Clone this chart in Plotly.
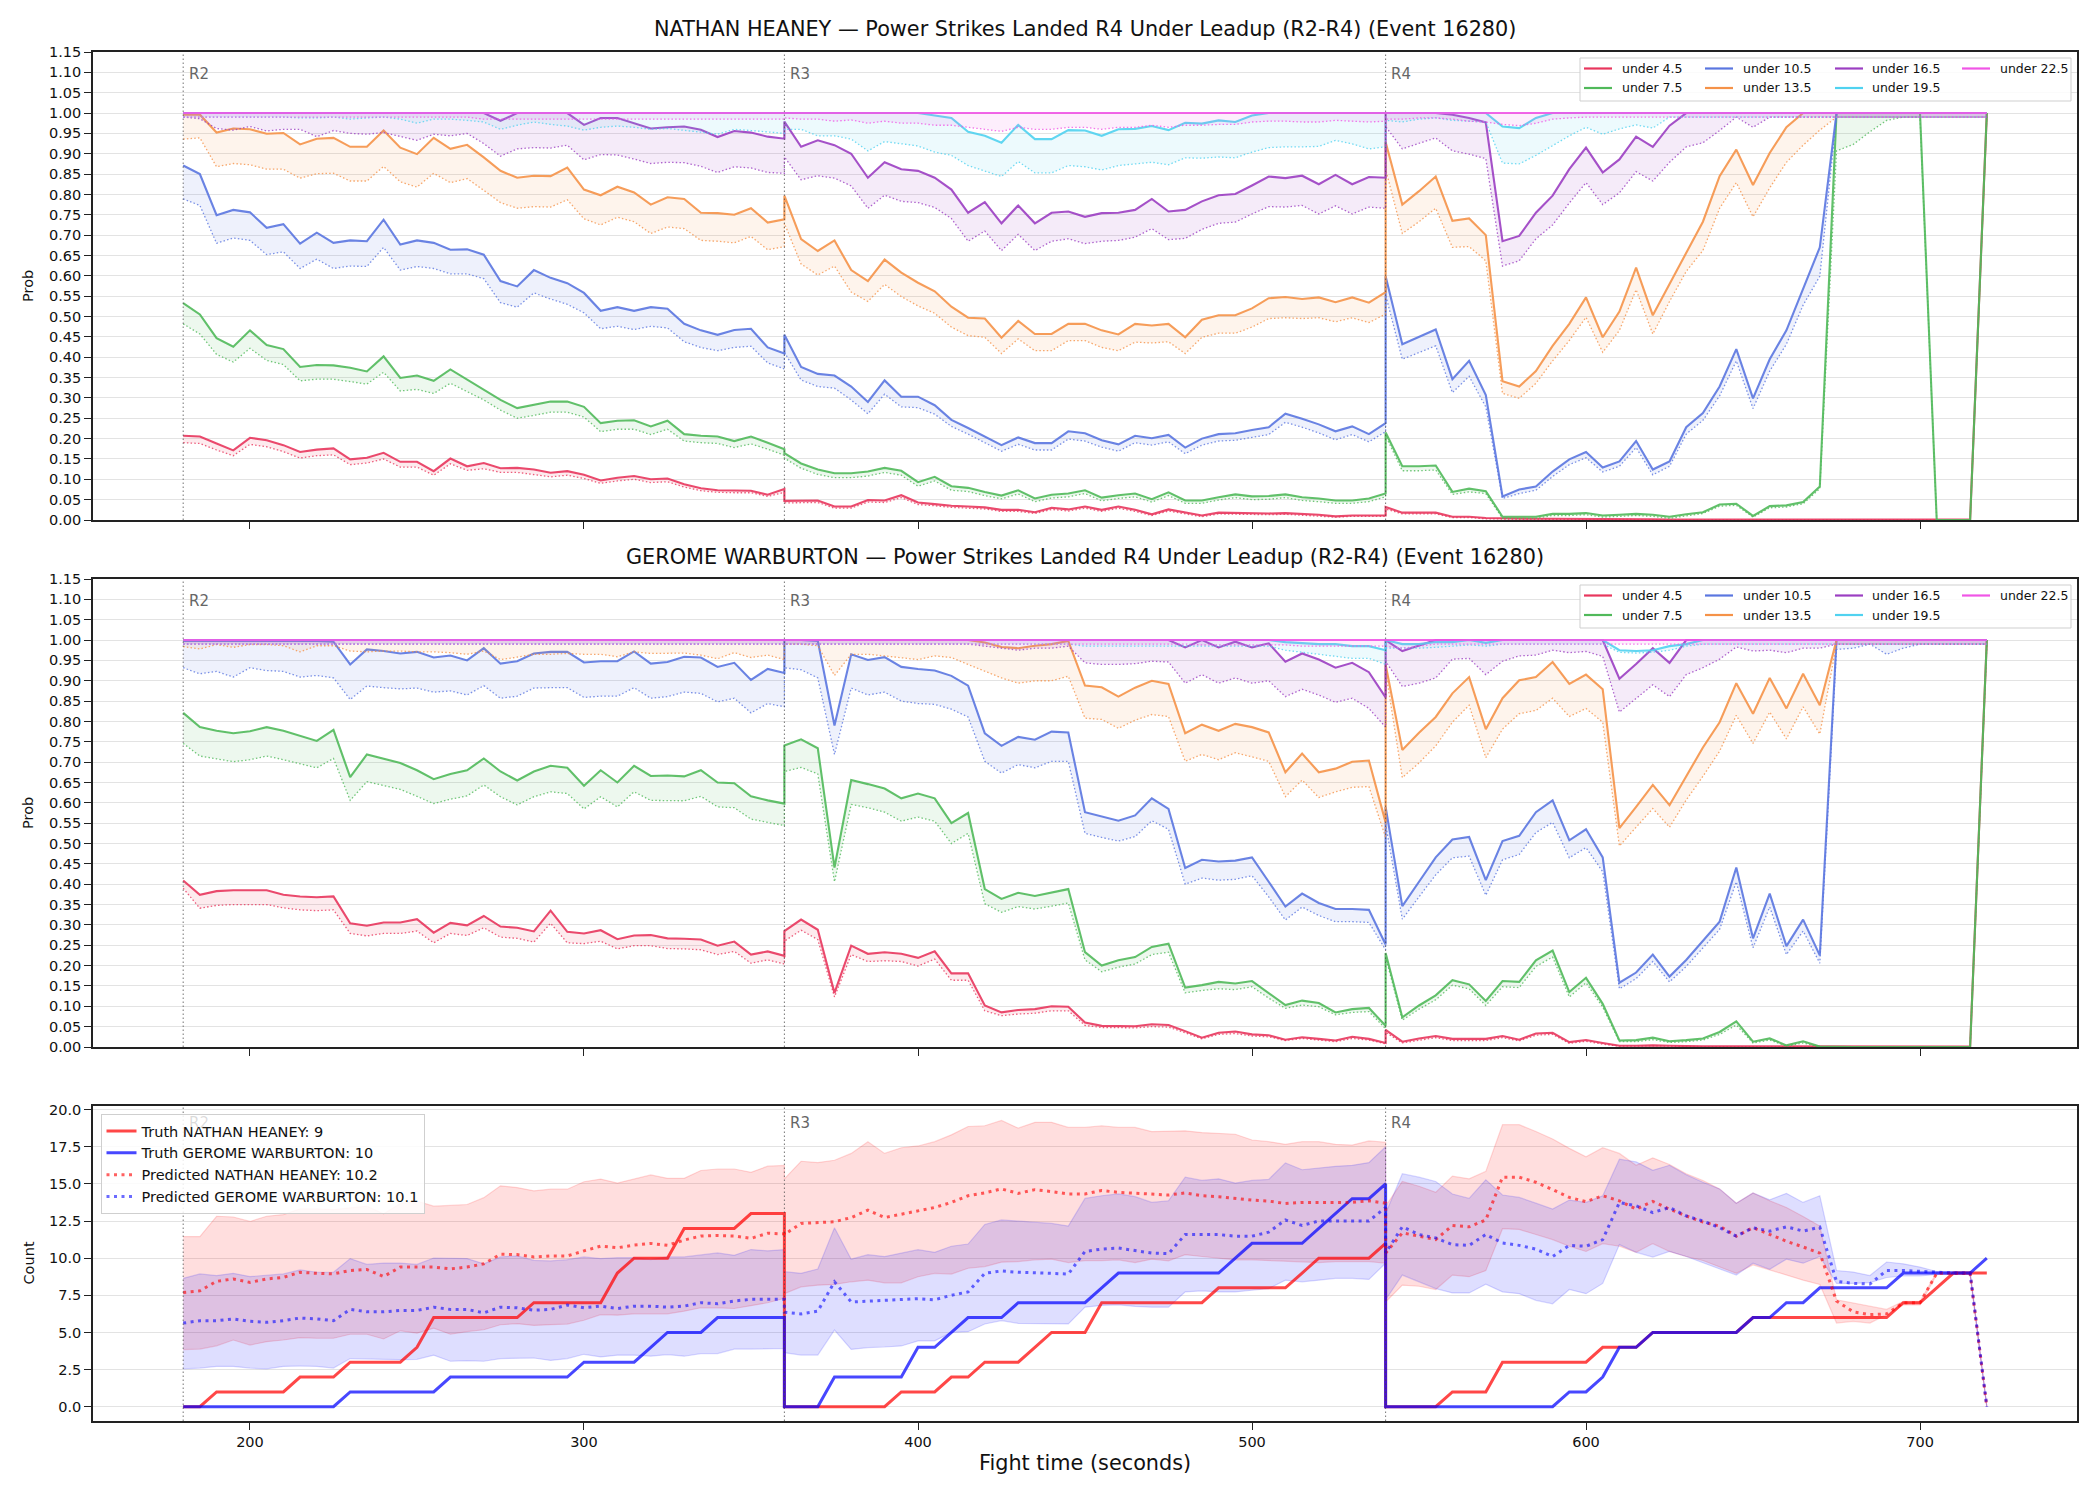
import plotly.graph_objects as go

# ---------------------------------------------------------------- time grid
# three rounds, sampled every 5 s, each round includes both of its end points
T = ([180 + 5 * i for i in range(37)] + [360 + 5 * i for i in range(37)]
     + [540 + 5 * i for i in range(37)])

THRESHOLDS = ["under 4.5", "under 7.5", "under 10.5", "under 13.5",
              "under 16.5", "under 19.5", "under 22.5"]
COLORS = ["#e8365d", "#50b95a", "#5a76e0", "#f59248", "#9b3ec2", "#50d2f0", "#f055e6"]
ROUND_STARTS = [180, 360, 540]
ROUND_LABELS = ["R2", "R3", "R4"]

# ---------------------------------------------------------------- NATHAN HEANEY (panel 1)
H_U45 = ([0.207,0.205,0.188,0.171,0.202,0.196,0.184,0.167,0.173,0.176,0.149,0.153,0.165,0.143,0.143,0.120,0.151,0.132,0.140,0.127,
          0.128,0.124,0.116,0.120,0.111,0.097,0.104,0.108,0.100,0.102,0.088,0.078,0.073,0.072,0.072,0.062,0.076]
         + [0.047,0.047,0.048,0.033,0.033,0.049,0.048,0.061,0.043,0.039,0.035,0.033,0.031,0.025,0.025,0.019,0.030,0.026,0.033,0.025,
            0.033,0.025,0.014,0.026,0.018,0.011,0.018,0.017,0.017,0.016,0.017,0.015,0.013,0.009,0.011,0.011,0.011]
         + [0.032,0.018,0.018,0.018,0.008,0.008,0.005,0.004,0.004,0.003,0.003,0.003,0.002,0.002,0.002,0.002,0.002] + [0.001]*19 + [1.0])
H_L45 = ([0.190,0.188,0.172,0.158,0.186,0.180,0.168,0.152,0.158,0.160,0.136,0.140,0.150,0.130,0.130,0.110,0.138,0.122,0.126,0.117,
          0.117,0.112,0.106,0.110,0.102,0.090,0.096,0.100,0.092,0.094,0.081,0.072,0.068,0.067,0.067,0.058,0.068]
         + [0.042,0.042,0.043,0.029,0.029,0.044,0.043,0.055,0.038,0.035,0.031,0.029,0.027,0.021,0.021,0.016,0.026,0.022,0.029,0.021,
            0.029,0.021,0.011,0.022,0.015,0.008,0.015,0.014,0.014,0.013,0.014,0.012,0.010,0.007,0.009,0.009,0.009]
         + [0.027,0.015,0.015,0.015,0.006,0.006,0.003,0.002,0.002,0.002,0.002,0.002,0.001,0.001,0.001,0.001,0.001] + [0.0]*19 + [0.99])
H_U75 = ([0.533,0.505,0.447,0.426,0.466,0.430,0.420,0.376,0.381,0.380,0.374,0.365,0.402,0.349,0.355,0.342,0.370,0.345,0.321,0.295,
          0.275,0.283,0.291,0.291,0.278,0.238,0.244,0.245,0.230,0.244,0.211,0.207,0.205,0.194,0.205,0.190,0.174]
         + [0.164,0.139,0.124,0.115,0.115,0.119,0.128,0.121,0.093,0.106,0.083,0.079,0.069,0.060,0.073,0.053,0.062,0.065,0.073,0.055,
            0.061,0.065,0.051,0.068,0.048,0.048,0.056,0.063,0.058,0.059,0.063,0.056,0.053,0.048,0.048,0.053,0.065]
         + [0.215,0.132,0.132,0.134,0.069,0.077,0.071,0.008,0.008,0.008,0.015,0.015,0.017,0.011,0.013,0.015,0.013,0.008,0.014,0.019,
            0.038,0.040,0.010,0.034,0.036,0.044,0.082,1.0,1.0,1.0,1.0,1.0,1.0,0.0,0.0,0.0,1.0])
H_L75 = ([0.482,0.457,0.407,0.388,0.422,0.392,0.382,0.342,0.346,0.346,0.340,0.334,0.363,0.317,0.321,0.311,0.336,0.316,0.295,0.270,
          0.250,0.257,0.265,0.265,0.253,0.217,0.223,0.223,0.210,0.223,0.194,0.190,0.188,0.178,0.187,0.174,0.159]
         + [0.152,0.127,0.112,0.104,0.104,0.108,0.117,0.110,0.083,0.096,0.073,0.070,0.060,0.052,0.064,0.045,0.054,0.057,0.065,0.047,
            0.053,0.057,0.044,0.060,0.041,0.041,0.049,0.055,0.050,0.051,0.055,0.048,0.045,0.041,0.041,0.045,0.057]
         + [0.207,0.121,0.121,0.123,0.063,0.069,0.065,0.004,0.004,0.004,0.011,0.011,0.013,0.007,0.009,0.011,0.009,0.004,0.010,0.016,
            0.034,0.036,0.007,0.030,0.032,0.040,0.077,0.907,0.923,0.954,0.982,0.990,0.990,0.0,0.0,0.0,0.99])
H_U105 = ([0.871,0.850,0.749,0.762,0.756,0.718,0.727,0.679,0.706,0.681,0.687,0.685,0.738,0.677,0.687,0.681,0.664,0.665,0.652,0.587,
           0.574,0.614,0.595,0.582,0.558,0.514,0.523,0.514,0.523,0.519,0.482,0.466,0.455,0.467,0.470,0.424,0.409]
          + [0.455,0.376,0.359,0.355,0.328,0.290,0.343,0.303,0.303,0.282,0.246,0.226,0.205,0.184,0.203,0.189,0.189,0.218,0.213,0.196,
             0.186,0.207,0.201,0.209,0.178,0.200,0.211,0.213,0.221,0.228,0.261,0.249,0.235,0.218,0.230,0.211,0.238]
          + [0.599,0.432,0.451,0.468,0.346,0.391,0.307,0.058,0.075,0.082,0.119,0.149,0.167,0.129,0.144,0.194,0.124,0.144,0.228,0.263,
             0.328,0.420,0.299,0.395,0.466,0.566,0.670] + [1.0]*10)
H_L105 = ([0.789,0.773,0.680,0.693,0.687,0.652,0.659,0.618,0.641,0.618,0.624,0.623,0.670,0.614,0.623,0.618,0.605,0.605,0.593,0.534,
           0.523,0.558,0.543,0.530,0.509,0.470,0.476,0.468,0.476,0.472,0.438,0.424,0.416,0.424,0.427,0.386,0.371]
          + [0.412,0.344,0.328,0.324,0.295,0.261,0.309,0.278,0.276,0.260,0.230,0.211,0.190,0.169,0.186,0.172,0.172,0.199,0.194,0.179,
             0.169,0.190,0.184,0.192,0.163,0.184,0.194,0.196,0.203,0.210,0.240,0.228,0.214,0.197,0.210,0.192,0.217]
          + [0.553,0.395,0.412,0.428,0.313,0.353,0.278,0.053,0.065,0.073,0.107,0.136,0.153,0.118,0.132,0.178,0.111,0.132,0.211,0.245,
             0.305,0.391,0.274,0.366,0.432,0.528,0.599] + [0.99]*10)
H_U135 = ([0.996,0.996,0.952,0.962,0.960,0.949,0.951,0.923,0.937,0.939,0.917,0.917,0.957,0.915,0.899,0.939,0.912,0.922,0.891,0.858,
           0.841,0.846,0.845,0.866,0.812,0.798,0.819,0.805,0.775,0.793,0.789,0.755,0.754,0.750,0.766,0.731,0.739]
          + [0.797,0.690,0.661,0.687,0.614,0.587,0.640,0.608,0.583,0.562,0.524,0.497,0.495,0.448,0.489,0.457,0.457,0.482,0.482,0.466,
             0.456,0.482,0.478,0.482,0.449,0.492,0.503,0.503,0.520,0.545,0.548,0.543,0.547,0.535,0.547,0.534,0.560]
          + [0.929,0.775,0.808,0.844,0.735,0.741,0.700,0.341,0.328,0.366,0.428,0.482,0.547,0.449,0.512,0.620,0.503,0.580,0.658,0.733,
             0.845,0.910,0.823,0.902,0.965] + [1.0]*12)
H_L135 = ([0.936,0.939,0.868,0.876,0.873,0.862,0.862,0.840,0.851,0.852,0.833,0.833,0.869,0.831,0.818,0.852,0.829,0.839,0.810,0.780,
           0.766,0.770,0.769,0.787,0.740,0.725,0.744,0.733,0.704,0.720,0.716,0.687,0.685,0.681,0.697,0.664,0.672]
          + [0.729,0.629,0.602,0.624,0.560,0.537,0.579,0.549,0.526,0.508,0.474,0.453,0.449,0.409,0.445,0.416,0.416,0.441,0.441,0.424,
             0.416,0.437,0.435,0.438,0.409,0.449,0.459,0.459,0.474,0.495,0.497,0.495,0.497,0.487,0.497,0.485,0.506]
          + [0.862,0.704,0.733,0.766,0.670,0.672,0.637,0.311,0.299,0.336,0.391,0.441,0.498,0.412,0.466,0.566,0.457,0.537,0.611,0.662,
             0.766,0.829,0.745,0.816,0.879,0.921,0.958] + [0.99]*10)
H_U165 = ([1.0]*19 + [0.981,1.0,1.0,1.0,1.0]
          + [0.971,0.988,0.988,0.975,0.962,0.965,0.967,0.959,0.941,0.956,0.952,0.942,0.937]
          + [0.979,0.917,0.933,0.921,0.900,0.841,0.879,0.862,0.858,0.841,0.812,0.755,0.781,0.729,0.773,0.729,0.755,0.758,0.745,0.754,
             0.755,0.762,0.789,0.758,0.762,0.783,0.798,0.801,0.822,0.844,0.840,0.846,0.825,0.848,0.825,0.843,0.841]
          + [1.0,1.0,1.0,1.0,0.996,0.988,0.977,0.685,0.698,0.755,0.797,0.862,0.915,0.854,0.886,0.942,0.917,0.969] + [1.0]*19)
H_L165 = ([0.990,0.986,0.962,0.958,0.967,0.956,0.960,0.960,0.942,0.957,0.950,0.948,0.952,0.942,0.933,0.948,0.944,0.950,0.925,0.894,
           0.912,0.915,0.914,0.921,0.885,0.898,0.897,0.887,0.876,0.879,0.878,0.869,0.854,0.868,0.865,0.854,0.852]
          + [0.892,0.836,0.846,0.840,0.821,0.766,0.798,0.783,0.780,0.768,0.741,0.685,0.710,0.662,0.702,0.662,0.685,0.691,0.679,0.685,
             0.687,0.695,0.716,0.689,0.692,0.714,0.729,0.732,0.752,0.770,0.769,0.773,0.752,0.772,0.752,0.769,0.766]
          + [0.967,0.912,0.926,0.939,0.907,0.899,0.888,0.624,0.637,0.691,0.725,0.779,0.829,0.775,0.804,0.856,0.833,0.879,0.917,0.927,
             0.957,0.990,0.965] + [0.99]*14)
H_U195 = ([1.0]*37
          + [1.0]*9 + [0.994,0.988,0.954,0.944,0.927,0.971,0.936,0.936,0.958,0.957,0.944,0.960,0.961,0.968,0.958,0.976,0.974,0.982,
                       0.978,0.994] + [1.0]*8
          + [1.0]*7 + [0.967,0.963,0.988] + [1.0]*27)
H_L195 = ([0.990,0.990,0.990,0.990,0.990,0.990,0.990,0.988,0.988,0.990,0.985,0.988,0.990,0.985,0.975,0.985,0.985,0.982,0.978,0.960,
           0.970,0.978,0.972,0.968,0.958,0.965,0.968,0.965,0.960,0.962,0.958,0.953,0.948,0.960,0.957,0.953,0.950]
          + [0.960,0.960,0.944,0.944,0.936,0.907,0.930,0.924,0.919,0.904,0.896,0.871,0.858,0.844,0.881,0.853,0.853,0.871,0.868,0.860,
             0.871,0.875,0.879,0.873,0.890,0.889,0.892,0.890,0.904,0.915,0.917,0.917,0.918,0.933,0.924,0.912,0.917]
          + [0.982,0.978,0.985,0.988,0.982,0.980,0.978,0.877,0.875,0.896,0.921,0.944,0.965,0.948,0.961,0.971,0.963] + [0.99]*20)
H_U225 = [1.0]*111
H_L225 = ([0.99]*18 + [0.985]*19
          + [0.988,0.985,0.985,0.980,0.983,0.975,0.980,0.975,0.975,0.970,0.970,0.965,0.960,0.955,0.965,0.960,0.960,0.965,0.965,0.960,
             0.965,0.965,0.970,0.965,0.970,0.970,0.972,0.972,0.978,0.980,0.980,0.978,0.978,0.982,0.980,0.978,0.980]
          + [0.985,0.985,0.988,0.988,0.985,0.980,0.978,0.972,0.969,0.975,0.985,0.988] + [0.99]*25)

# ---------------------------------------------------------------- GEROME WARBURTON (panel 2)
G_U45 = ([0.409,0.374,0.383,0.385,0.385,0.385,0.374,0.370,0.368,0.370,0.304,0.298,0.306,0.306,0.314,0.281,0.305,0.299,0.322,0.296,
          0.293,0.284,0.335,0.283,0.279,0.287,0.265,0.274,0.275,0.267,0.266,0.264,0.249,0.259,0.227,0.235,0.224]
         + [0.285,0.313,0.288,0.133,0.249,0.229,0.233,0.229,0.219,0.235,0.181,0.181,0.102,0.085,0.091,0.093,0.100,0.099,0.060,0.052,
            0.051,0.051,0.056,0.054,0.039,0.023,0.035,0.038,0.031,0.029,0.018,0.024,0.020,0.016,0.025,0.020,0.010]
         + [0.042,0.013,0.021,0.027,0.020,0.020,0.020,0.027,0.018,0.033,0.035,0.012,0.017,0.010,0.003,0.003,0.004,0.003,0.002,0.002,
            0.002,0.002] + [0.001]*14 + [1.0])
G_L45 = ([0.390,0.341,0.348,0.350,0.350,0.350,0.342,0.337,0.335,0.337,0.279,0.273,0.279,0.279,0.285,0.256,0.279,0.274,0.293,0.270,
          0.267,0.258,0.304,0.256,0.254,0.260,0.241,0.249,0.249,0.242,0.241,0.239,0.227,0.235,0.206,0.214,0.204]
         + [0.260,0.287,0.264,0.123,0.227,0.210,0.212,0.210,0.199,0.216,0.164,0.164,0.089,0.077,0.081,0.083,0.089,0.089,0.053,0.048,
            0.047,0.047,0.050,0.049,0.035,0.020,0.031,0.033,0.027,0.025,0.016,0.021,0.017,0.013,0.021,0.017,0.008]
         + [0.036,0.010,0.017,0.023,0.016,0.016,0.016,0.023,0.015,0.029,0.031,0.009,0.014,0.007,0.002,0.002,0.003,0.002,0.001,0.001,
            0.001,0.001] + [0.0]*14 + [0.99])
G_U75 = ([0.821,0.786,0.777,0.771,0.776,0.786,0.777,0.765,0.752,0.779,0.663,0.719,0.708,0.698,0.680,0.658,0.671,0.680,0.709,0.677,
          0.655,0.677,0.691,0.686,0.642,0.680,0.650,0.691,0.666,0.667,0.665,0.680,0.650,0.648,0.616,0.606,0.598]
         + [0.741,0.756,0.734,0.441,0.656,0.646,0.635,0.611,0.623,0.611,0.550,0.575,0.388,0.364,0.379,0.371,0.380,0.388,0.233,0.200,
            0.213,0.221,0.246,0.254,0.146,0.152,0.160,0.156,0.162,0.133,0.103,0.114,0.108,0.085,0.093,0.096,0.052]
         + [0.231,0.073,0.102,0.127,0.164,0.154,0.113,0.162,0.160,0.213,0.237,0.135,0.170,0.106,0.016,0.017,0.023,0.014,0.017,0.021,
            0.037,0.063,0.013,0.021,0.004,0.014,0.001] + [0.0]*9 + [1.0])
G_L75 = ([0.746,0.715,0.708,0.701,0.706,0.715,0.706,0.696,0.686,0.709,0.606,0.652,0.642,0.633,0.616,0.598,0.609,0.617,0.644,0.615,
          0.595,0.615,0.627,0.623,0.585,0.615,0.590,0.627,0.606,0.605,0.605,0.616,0.590,0.588,0.560,0.552,0.544]
         + [0.677,0.687,0.671,0.406,0.596,0.588,0.577,0.555,0.565,0.555,0.500,0.525,0.352,0.331,0.345,0.339,0.346,0.354,0.214,0.185,
            0.196,0.204,0.227,0.233,0.133,0.139,0.143,0.141,0.148,0.120,0.095,0.103,0.099,0.079,0.085,0.087,0.045]
         + [0.221,0.066,0.093,0.116,0.152,0.143,0.102,0.148,0.146,0.198,0.221,0.123,0.158,0.098,0.013,0.013,0.018,0.011,0.013,0.017,
            0.031,0.054,0.010,0.017,0.002,0.010] + [0.0]*10 + [0.99])
G_U105 = ([0.998]*9 + [0.996,0.940,0.977,0.973,0.967,0.971,0.957,0.962,0.950,0.980,0.942,0.948,0.967,0.971,0.971,0.945,0.948,
                       0.948,0.972,0.942,0.946,0.959,0.957,0.934,0.944,0.902,0.929,0.919]
          + [1.0,1.0,0.998,0.790,0.965,0.951,0.958,0.934,0.929,0.925,0.912,0.888,0.771,0.740,0.762,0.755,0.775,0.773,0.577,0.566,
             0.556,0.569,0.611,0.585,0.440,0.460,0.456,0.458,0.466,0.406,0.345,0.377,0.354,0.339,0.339,0.337,0.252]
          + [0.590,0.346,0.406,0.466,0.510,0.516,0.410,0.506,0.519,0.577,0.606,0.508,0.535,0.466,0.158,0.183,0.227,0.173,0.214,0.262,
             0.308,0.441,0.267,0.377,0.248,0.313,0.225] + [1.0]*10)
G_L105 = ([0.932,0.917,0.923,0.909,0.932,0.925,0.923,0.909,0.913,0.907,0.854,0.887,0.883,0.880,0.882,0.872,0.875,0.865,0.888,0.857,
           0.862,0.882,0.883,0.883,0.859,0.862,0.862,0.883,0.857,0.861,0.872,0.869,0.848,0.857,0.821,0.844,0.836]
          + [0.932,0.927,0.907,0.719,0.882,0.865,0.872,0.850,0.844,0.842,0.830,0.811,0.702,0.673,0.694,0.686,0.702,0.702,0.525,0.515,
             0.506,0.517,0.556,0.535,0.400,0.415,0.410,0.412,0.421,0.369,0.312,0.344,0.323,0.308,0.308,0.306,0.239]
          + [0.548,0.314,0.369,0.423,0.465,0.469,0.373,0.460,0.473,0.527,0.552,0.465,0.490,0.431,0.143,0.168,0.210,0.160,0.198,0.244,
             0.289,0.406,0.244,0.344,0.227,0.285,0.206,0.977,0.980,0.990,0.965,0.980] + [0.99]*5)
G_U135 = ([1.0]*37
          + [1.0]*12 + [0.994,0.983,0.980,0.986,0.990,0.998,0.888,0.884,0.861,0.883,0.900,0.892,0.771,0.792,0.777,0.794,0.786,0.773,
                        0.675,0.721,0.675,0.684,0.701,0.704,0.552]
          + [0.940,0.730,0.772,0.811,0.869,0.909,0.781,0.857,0.901,0.909,0.946,0.892,0.915,0.879,0.538,0.590,0.644,0.594,0.665,0.736,
             0.798,0.894,0.819,0.907,0.832,0.917,0.840] + [1.0]*10)
G_L135 = ([0.984,0.978,0.989,0.982,0.989,0.989,0.986,0.971,0.986,0.986,0.973,0.971,0.973,0.973,0.971,0.971,0.969,0.965,0.973,0.952,
           0.958,0.965,0.965,0.967,0.965,0.965,0.959,0.971,0.967,0.967,0.968,0.963,0.954,0.969,0.957,0.963,0.952]
          + [0.990,0.990,0.986,0.913,0.965,0.965,0.961,0.957,0.952,0.961,0.957,0.940,0.923,0.907,0.894,0.900,0.900,0.911,0.808,0.805,
             0.783,0.803,0.817,0.812,0.702,0.719,0.706,0.723,0.713,0.702,0.615,0.656,0.613,0.627,0.638,0.640,0.515]
          + [0.923,0.662,0.698,0.740,0.798,0.840,0.711,0.781,0.819,0.827,0.857,0.812,0.832,0.798,0.494,0.540,0.586,0.540,0.607,0.665,
             0.727,0.815,0.746,0.823,0.757,0.836,0.769] + [0.99]*10)
G_U165 = ([1.0]*37
          + [1.0]*24 + [0.982,1.0,0.982,0.996,0.982,0.992,0.947,0.967,0.952,0.932,0.944,0.921,0.859]
          + [1.0,0.973,0.986] + [1.0]*11 + [0.905,0.941,0.980,0.944] + [1.0]*19)
G_L165 = ([0.99]*37
          + [0.99]*12 + [0.985,0.980,0.975,0.980,0.980,0.985,0.944,0.940,0.940,0.942,0.948,0.946,0.894,0.915,0.894,0.907,0.894,
                         0.900,0.861,0.879,0.865,0.847,0.857,0.832,0.786]
          + [0.948,0.886,0.894,0.907,0.953,0.955,0.915,0.948,0.961,0.963,0.975,0.969,0.972,0.960,0.823,0.857,0.890,0.861,0.915,0.932,
             0.953,0.983,0.973,0.975,0.969,0.980,0.980] + [0.99]*10)
G_U195 = ([1.0]*37
          + [1.0]*30 + [0.995,0.993,0.990,0.990,0.985,0.985,0.975]
          + [1.0,0.99,0.99,0.995,0.995,1.0,0.993] + [1.0]*7 + [0.975,0.973,0.975,0.985,0.99] + [1.0]*18)
G_L195 = ([0.99]*37
          + [0.99]*18 + [0.985]*12 + [0.975,0.970,0.965,0.960,0.955,0.955,0.940]
          + [0.980,0.980,0.980,0.982,0.985,0.988,0.985] + [0.99]*7 + [0.970,0.968,0.970,0.975,0.985] + [0.99]*18)
G_U225 = [1.0]*111
G_L225 = [0.99]*37 + [0.99]*25 + [0.988]*6 + [0.985]*6 + [0.985,0.98,0.985] + [0.99]*34

# ---------------------------------------------------------------- counts (panel 3)
TRUTH_H = ([0,0,1,1,1,1,1,2,2,2,3,3,3,3,4,6,6,6,6,6,6,7,7,7,7,7,9,10,10,10,12,12,12,12,13,13,13]
           + [0,0,0,0,0,0,0,1,1,1,2,2,3,3,3,4,5,5,5,7,7,7,7,7,7,7,8,8,8,8,8,9,10,10,10,10,11]
           + [0,0,0,0,1,1,1,3,3,3,3,3,3,4,4,4,5,5,5,5,5,5,6,6,6,6,6,6,6,6,6,7,7,8,9,9,9])
TRUTH_G = ([0,0,0,0,0,0,0,0,0,0,1,1,1,1,1,1,2,2,2,2,2,2,2,2,3,3,3,3,4,5,5,5,6,6,6,6,6]
           + [0,0,0,2,2,2,2,2,4,4,5,6,6,6,7,7,7,7,7,8,9,9,9,9,9,9,9,10,11,11,11,11,12,13,14,14,15]
           + [0,0,0,0,0,0,0,0,0,0,0,1,1,2,4,4,5,5,5,5,5,5,6,6,7,7,8,8,8,8,8,9,9,9,9,9,10])
PRED_H = ([7.69,7.80,8.44,8.60,8.37,8.60,8.71,9.05,8.98,8.94,9.17,9.24,8.76,9.40,9.40,9.40,9.28,9.40,9.62,10.26,
           10.24,10.08,10.15,10.15,10.49,10.81,10.70,10.88,10.99,10.86,11.22,11.49,11.52,11.49,11.33,11.68,11.63]
          + [11.59,12.34,12.39,12.45,12.73,13.23,12.73,12.95,13.18,13.41,13.75,14.20,14.39,14.66,14.36,14.61,14.48,14.32,14.32,14.55,
             14.43,14.36,14.32,14.25,14.39,14.20,14.14,14.02,13.91,13.84,13.68,13.75,13.75,13.75,13.75,13.86,13.70]
          + [10.34,11.70,11.48,11.25,12.20,12.11,12.57,15.45,15.45,15.11,14.61,14.09,13.80,14.20,13.86,13.30,13.82,13.30,12.84,12.43,
             12.16,11.48,12.05,11.59,11.14,10.75,10.34,7.12,6.39,6.20,6.25,7.00,7.00,8.98,8.98,8.98,0.0])
PRED_G = ([5.63,5.79,5.79,5.91,5.75,5.68,5.79,5.97,5.91,5.79,6.55,6.39,6.39,6.48,6.48,6.70,6.55,6.55,6.32,6.70,
           6.66,6.50,6.55,6.84,6.66,6.77,6.61,6.77,6.77,6.70,6.77,7.00,6.93,7.12,7.23,7.23,7.23]
          + [6.36,6.25,6.43,8.41,7.05,7.11,7.16,7.23,7.27,7.20,7.50,7.73,8.98,9.14,9.05,9.02,8.98,8.93,10.45,10.61,
             10.68,10.52,10.34,10.30,11.59,11.59,11.59,11.48,11.48,11.75,12.57,12.20,12.50,12.50,12.50,12.50,13.41]
          + [10.34,12.11,11.59,11.36,10.91,10.86,11.59,11.02,10.86,10.61,10.11,10.86,10.80,11.25,13.75,13.52,13.07,13.41,12.84,12.50,
             12.05,11.48,12.05,11.82,12.11,11.82,12.09,8.44,8.30,8.26,9.17,9.17,9.12,9.05,9.00,9.00,0.0])
HI_H = ([11.45,11.45,12.82,12.77,12.47,12.82,12.93,13.32,13.32,13.27,13.39,13.50,12.98,13.68,13.84,13.50,13.55,13.61,14.07,14.87,
         14.75,14.53,14.64,14.64,15.14,15.32,15.05,15.32,15.60,15.37,15.37,15.90,16.00,16.00,15.78,16.19,16.24]
        + [15.34,16.52,16.43,16.59,17.05,17.84,17.05,17.43,17.55,17.84,18.30,18.86,18.91,19.27,18.75,19.14,19.14,18.80,18.80,18.91,
           18.80,18.80,18.52,18.57,18.57,18.45,18.41,18.34,17.95,17.84,17.66,17.84,17.84,17.66,17.61,17.89,17.80]
        + [13.50,15.16,14.84,14.43,15.52,15.34,15.84,18.98,18.98,18.52,18.02,17.39,16.82,17.43,17.05,16.25,16.75,16.30,15.68,15.23,
           14.66,13.70,14.39,13.86,13.41,12.80,12.16,7.20,7.00,6.80,6.55,7.10,7.10,9.05,9.05,9.05,0.0])
LO_H = ([3.85,3.88,4.10,4.49,4.15,4.38,4.49,4.65,4.61,4.61,4.88,4.88,4.56,5.11,4.95,5.29,4.88,5.06,5.18,5.52,
         5.59,5.47,5.52,5.56,5.82,6.20,6.16,6.25,6.25,6.25,6.43,6.66,6.66,6.61,6.80,7.00,7.30]
        + [7.61,8.07,8.18,8.23,8.41,8.52,8.34,8.34,8.75,8.98,8.93,9.32,9.43,9.73,9.77,9.89,9.93,9.70,9.84,9.84,
           9.89,9.70,9.93,9.82,10.23,10.11,10.00,9.89,9.89,9.84,9.77,9.77,9.70,9.77,9.77,9.77,9.66]
        + [7.05,8.18,8.11,7.89,8.86,8.75,9.16,11.98,11.93,11.59,11.25,10.80,10.45,10.98,10.80,10.39,10.98,10.45,10.11,9.84,
           9.43,8.98,9.55,9.20,8.86,8.52,8.23,5.63,5.75,5.63,6.20,6.85,6.85,8.90,8.90,8.90,0.0])
HI_G = ([8.64,8.94,8.83,8.98,8.76,8.83,8.94,9.21,9.05,9.05,9.97,9.58,9.67,9.67,9.58,10.01,10.01,9.97,9.62,10.08,
         10.15,9.85,9.81,9.90,10.08,9.97,10.03,10.03,9.90,10.08,10.08,10.19,10.35,10.19,10.58,10.49,10.58]
        + [9.09,8.98,9.27,12.05,9.93,10.23,10.11,10.34,10.57,10.39,10.80,10.95,12.27,12.57,12.50,12.43,12.34,12.16,14.02,14.20,
           14.32,14.14,13.75,13.86,15.45,15.23,15.34,15.05,15.23,15.30,16.41,15.95,16.07,16.18,16.25,16.43,17.50]
        + [13.00,15.68,15.45,15.16,14.32,14.02,15.27,14.25,14.09,13.70,13.30,13.91,13.75,14.20,16.66,16.48,15.91,16.25,15.61,15.11,
           14.66,13.70,14.39,13.93,14.36,13.75,14.20,9.17,9.06,8.83,9.74,9.62,9.40,9.10,9.10,9.10,0.0])
LO_G = ([2.55,2.60,2.71,2.71,2.60,2.55,2.71,2.74,2.71,2.60,3.24,3.19,3.19,3.17,3.19,3.47,3.06,3.10,3.06,3.24,
         3.28,3.28,3.12,3.24,3.53,3.35,3.47,3.47,3.40,3.51,3.40,3.58,3.58,3.88,3.88,3.88,3.92]
        + [3.64,3.48,3.48,5.16,3.86,3.98,4.02,4.09,4.43,4.43,5.00,5.05,5.57,5.80,5.61,5.61,5.61,5.57,6.70,6.82,
           6.86,6.75,6.70,6.70,7.73,7.80,7.73,7.73,7.84,7.95,8.52,8.41,8.52,8.64,8.64,8.57,9.66]
        + [7.20,8.86,8.41,7.95,7.66,7.66,8.25,7.73,7.61,7.16,6.93,7.89,7.61,8.30,10.91,10.39,10.07,10.45,10.11,9.70,
           9.32,8.86,9.66,9.25,9.93,9.66,10.11,8.30,8.30,8.35,8.70,8.80,8.80,8.90,8.90,8.90,0.0])

NAME_H = "NATHAN HEANEY"
NAME_G = "GEROME WARBURTON"
TITLE_TAIL = " — Power Strikes Landed R4 Under Leadup (R2-R4) (Event 16280)"
LEGEND_BOTTOM = ["Truth NATHAN HEANEY: 9", "Truth GEROME WARBURTON: 10",
                 "Predicted NATHAN HEANEY: 10.2", "Predicted GEROME WARBURTON: 10.1"]

# ---------------------------------------------------------------- layout geometry (pixels)
W, H = 2100, 1500
PL, PR = 93, 2077
PANELS = [(52, 520), (579, 1047), (1106, 1421)]   # (top, bottom) pixel rows
PT, PB = PANELS[0][0], PANELS[2][1]
PH = PB - PT
PW = PR - PL
FONT = "DejaVu Sans, sans-serif"


def rgba(hexc, a):
    hexc = hexc.lstrip("#")
    r, g, b = int(hexc[0:2], 16), int(hexc[2:4], 16), int(hexc[4:6], 16)
    return f"rgba({r},{g},{b},{a})"


def paper_y(py):
    return (PB - py) / PH


def dom_x(px):
    return (px - PL) / PW


fig = go.Figure()

# ---------------------------------------------------------------- probability panels
H_UP = [H_U45, H_U75, H_U105, H_U135, H_U165, H_U195, H_U225]
H_LO = [H_L45, H_L75, H_L105, H_L135, H_L165, H_L195, H_L225]
G_UP = [G_U45, G_U75, G_U105, G_U135, G_U165, G_U195, G_U225]
G_LO = [G_L45, G_L75, G_L105, G_L135, G_L165, G_L195, G_L225]

for ups, los, xa, ya in [(H_UP, H_LO, "x", "y"), (G_UP, G_LO, "x2", "y2")]:
    for up, lo, col, lab in zip(ups, los, COLORS, THRESHOLDS):
        fig.add_trace(go.Scatter(x=T, y=lo, xaxis=xa, yaxis=ya, mode="lines",
                                 line=dict(color=rgba(col, 0.8), width=1.3, dash="1.5px,2.2px"),
                                 showlegend=False, hoverinfo="skip"))
        fig.add_trace(go.Scatter(x=T, y=up, xaxis=xa, yaxis=ya, mode="lines", name=lab,
                                 line=dict(color=rgba(col, 0.9), width=2.1),
                                 fill="tonexty", fillcolor=rgba(col, 0.10),
                                 showlegend=False, hoverinfo="skip"))

# ---------------------------------------------------------------- count panel
RED, BLUE = "#ff0000", "#0000ff"
for lo, hi, col in [(LO_H, HI_H, RED), (LO_G, HI_G, BLUE)]:
    fig.add_trace(go.Scatter(x=T, y=lo, xaxis="x3", yaxis="y3", mode="lines",
                             line=dict(color=rgba(col, 0.15), width=1.2),
                             showlegend=False, hoverinfo="skip"))
    fig.add_trace(go.Scatter(x=T, y=hi, xaxis="x3", yaxis="y3", mode="lines",
                             line=dict(color=rgba(col, 0.15), width=1.2),
                             fill="tonexty", fillcolor=rgba(col, 0.13),
                             showlegend=False, hoverinfo="skip"))

fig.add_trace(go.Scatter(x=T, y=TRUTH_H, xaxis="x3", yaxis="y3", mode="lines", name=LEGEND_BOTTOM[0],
                         line=dict(color=rgba(RED, 0.72), width=3)))
fig.add_trace(go.Scatter(x=T, y=TRUTH_G, xaxis="x3", yaxis="y3", mode="lines", name=LEGEND_BOTTOM[1],
                         line=dict(color=rgba(BLUE, 0.72), width=3)))
fig.add_trace(go.Scatter(x=T, y=PRED_H, xaxis="x3", yaxis="y3", mode="lines", name=LEGEND_BOTTOM[2],
                         line=dict(color=rgba(RED, 0.62), width=3, dash="3px,4.5px")))
fig.add_trace(go.Scatter(x=T, y=PRED_G, xaxis="x3", yaxis="y3", mode="lines", name=LEGEND_BOTTOM[3],
                         line=dict(color=rgba(BLUE, 0.58), width=3, dash="3px,4.5px")))

# ---------------------------------------------------------------- axes
axis_common = dict(showline=True, mirror=True, linecolor="#222222", linewidth=1.7,
                   ticks="outside", ticklen=7, tickwidth=1.3, tickcolor="#222222",
                   tickfont=dict(family=FONT, size=14.5, color="#111111"),
                   zeroline=False)
xcommon = dict(axis_common, range=[153, 747], tickvals=[200, 300, 400, 500, 600, 700],
               showgrid=False)
layout_axes = {}
for i, (top, bot) in enumerate(PANELS):
    sfx = "" if i == 0 else str(i + 1)
    dom = [paper_y(bot), paper_y(top)]
    layout_axes["xaxis" + sfx] = dict(xcommon, anchor="y" + sfx, domain=[0, 1],
                                      showticklabels=(i == 2),
                                      **({} if i == 0 else {"matches": "x"}))
    if i < 2:
        layout_axes["yaxis" + sfx] = dict(axis_common, anchor="x" + sfx, domain=dom,
                                          range=[0, 1.15], tick0=0, dtick=0.05, tickformat=".2f",
                                          showgrid=True, gridcolor="#e3e3e3", gridwidth=1)
    else:
        layout_axes["yaxis" + sfx] = dict(axis_common, anchor="x" + sfx, domain=dom,
                                          range=[-0.96, 20.24], tick0=0, dtick=2.5, tickformat=".1f",
                                          showgrid=True, gridcolor="#e3e3e3", gridwidth=1)

# ---------------------------------------------------------------- shapes & annotations
shapes, annots = [], []
refs = [("x", "y"), ("x2", "y2"), ("x3", "y3")]
for i, (xr, yr) in enumerate(refs):
    top, bot = PANELS[i]
    hgt = bot - top
    for xs, lab in zip(ROUND_STARTS, ROUND_LABELS):
        shapes.append(dict(type="line", xref=xr, yref=yr + " domain", x0=xs, x1=xs, y0=0, y1=1,
                           line=dict(color="rgba(70,70,70,0.75)", width=1, dash="1.5px,2.5px"), layer="above"))
        off = 22 if i < 2 else 17
        faint = (i == 2 and lab == "R2")   # sits under the semi-opaque legend in the reference
        annots.append(dict(xref=xr, yref=yr + " domain", x=xs + 1, y=1 - off / hgt, text=lab,
                           showarrow=False, xanchor="left", yanchor="middle",
                           font=dict(family=FONT, size=15,
                                     color="rgba(90,90,90,0.22)" if faint else "#666666")))

# manual 4-column legends for the probability panels
COL_LINE = [1584, 1705, 1835, 1962]
COL_TEXT = [1620, 1741, 1870, 1998]
for i in range(2):
    xr, yr = refs[i]
    top, bot = PANELS[i]
    hgt = bot - top

    def dy(off):
        return 1 - off / hgt

    shapes.append(dict(type="rect", xref=xr + " domain", yref=yr + " domain",
                       x0=dom_x(1580), x1=dom_x(2071), y0=dy(49), y1=dy(6),
                       line=dict(color="#cfcfcf", width=1), fillcolor="rgba(255,255,255,0.85)",
                       layer="above"))
    for k, (lab, col) in enumerate(zip(THRESHOLDS, COLORS)):
        c, r = k // 2, k % 2
        yy = dy(16.5 if r == 0 else 36)
        shapes.append(dict(type="line", xref=xr + " domain", yref=yr + " domain",
                           x0=dom_x(COL_LINE[c]), x1=dom_x(COL_LINE[c] + 28), y0=yy, y1=yy,
                           line=dict(color=col, width=2.2), layer="above"))
        annots.append(dict(xref=xr + " domain", yref=yr + " domain", x=dom_x(COL_TEXT[c]), y=yy,
                           text=lab, showarrow=False, xanchor="left", yanchor="middle",
                           font=dict(family=FONT, size=12.5, color="#111111")))

# titles
annots.append(dict(xref="paper", yref="paper", x=0.5, y=paper_y(29), text=NAME_H + TITLE_TAIL,
                   showarrow=False, xanchor="center", yanchor="middle",
                   font=dict(family=FONT, size=20.8, color="#111111")))
annots.append(dict(xref="paper", yref="paper", x=0.5, y=paper_y(557), text=NAME_G + TITLE_TAIL,
                   showarrow=False, xanchor="center", yanchor="middle",
                   font=dict(family=FONT, size=20.8, color="#111111")))
# axis titles
annots.append(dict(xref="paper", yref="paper", x=0.5, y=paper_y(1463), text="Fight time (seconds)",
                   showarrow=False, xanchor="center", yanchor="middle",
                   font=dict(family=FONT, size=20.8, color="#111111")))
for (top, bot), txt in zip(PANELS, ["Prob", "Prob", "Count"]):
    annots.append(dict(xref="paper", yref="paper", x=dom_x(28), y=paper_y((top + bot) / 2), text=txt,
                       textangle=-90, showarrow=False, xanchor="center", yanchor="middle",
                       font=dict(family=FONT, size=14.5, color="#111111")))

fig.update_layout(
    width=W, height=H,
    margin=dict(l=PL, r=W - PR, t=PT, b=H - PB),
    paper_bgcolor="white", plot_bgcolor="white",
    font=dict(family=FONT, size=14.5, color="#111111"),
    showlegend=True,
    legend=dict(x=dom_x(100.5), y=paper_y(1114), xanchor="left", yanchor="top",
                traceorder="normal",
                bgcolor="rgba(255,255,255,0.85)", bordercolor="#cfcfcf", borderwidth=1,
                font=dict(family=FONT, size=14.5, color="#111111"), tracegroupgap=0),
    shapes=shapes, annotations=annots,
    **layout_axes,
)

fig.write_html("out.html")
